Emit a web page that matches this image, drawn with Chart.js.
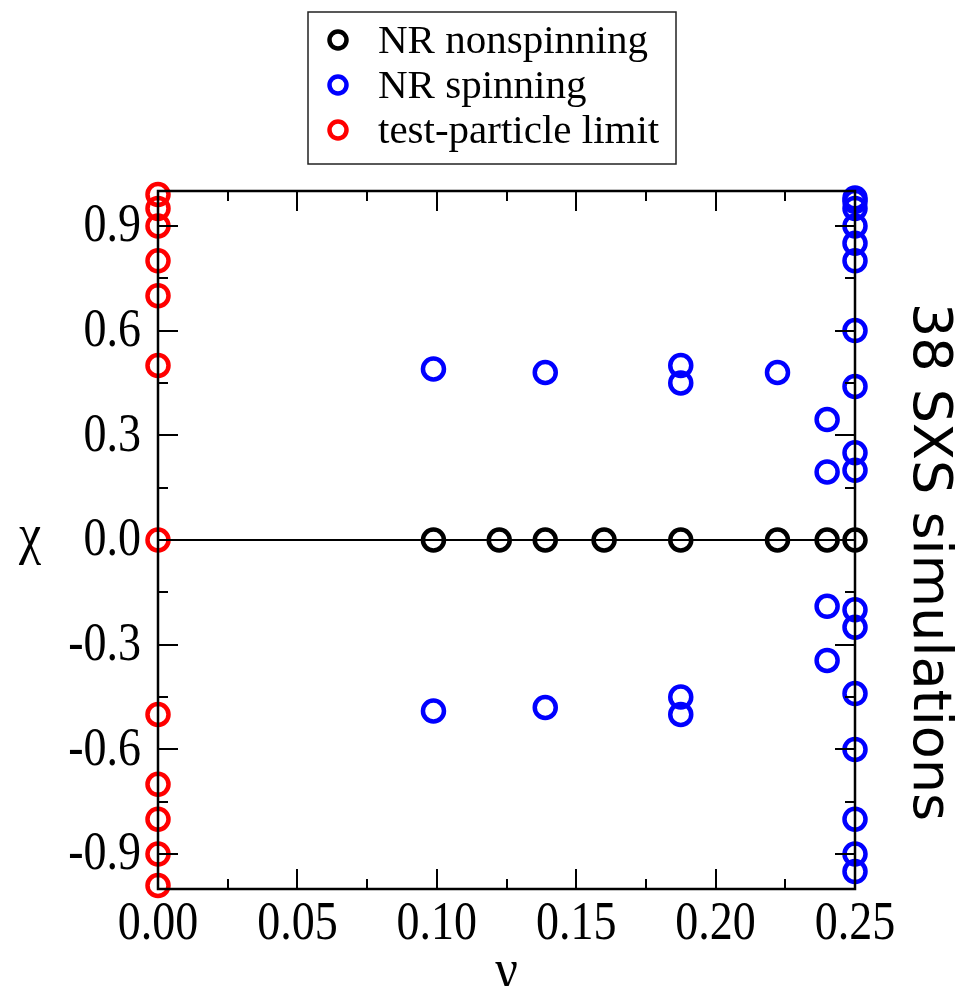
<!DOCTYPE html>
<html>
<head>
<meta charset="utf-8">
<script src="https://cdn.jsdelivr.net/npm/chart.js@4.4.1/dist/chart.umd.min.js"></script>
<style>
html,body{margin:0;padding:0;background:#fff;}
#wrap{width:961px;height:986px;position:relative;}
</style>
</head>
<body>
<div id="wrap"><canvas id="c" width="961" height="986"></canvas></div>
<script>
// ---- data ----
const nonspinNu  = [0.0988, 0.1224, 0.1389, 0.16, 0.1875, 0.2222, 0.24, 0.25];
const nonspinChi = [0, 0, 0, 0, 0, 0, 0, 0];

const spinNu  = [0.0988, 0.0988, 0.1389, 0.1389, 0.1875, 0.1875, 0.1875, 0.1875, 0.2222,
                 0.24, 0.24, 0.24, 0.24,
                 0.25, 0.25, 0.25, 0.25, 0.25, 0.25, 0.25, 0.25, 0.25, 0.25,
                 0.25, 0.25, 0.25, 0.25, 0.25, 0.25, 0.25];
const spinChi = [0.49, -0.49, 0.48, -0.48, 0.50, 0.45, -0.45, -0.50, 0.48,
                 0.345, 0.195, -0.19, -0.345,
                 0.98, 0.97, 0.95, 0.90, 0.85, 0.80, 0.60, 0.44, 0.25, 0.20,
                 -0.20, -0.25, -0.44, -0.60, -0.80, -0.90, -0.95];

const testNu  = [0, 0, 0, 0, 0, 0, 0, 0, 0, 0, 0, 0];
const testChi = [0.99, 0.95, 0.90, 0.80, 0.70, 0.50, 0.0, -0.50, -0.70, -0.80, -0.90, -0.99];

const xTicks = [0, 0.05, 0.10, 0.15, 0.20, 0.25];
const xMinorTicks = [0.025, 0.075, 0.125, 0.175, 0.225];
const yTicks = [-0.9, -0.6, -0.3, 0.0, 0.3, 0.6, 0.9];
const yMinorTicks = [-0.75, -0.45, -0.15, 0.15, 0.45, 0.75];

const seriesNames = ["NR nonspinning", "NR spinning", "test-particle limit"];
const seriesColors = ["#000000", "#0000ff", "#ff0000"];
const sideLabel = "38 SXS simulations";
const xTitle = "\u03bd";
const yTitle = "\u03c7";

const pts = (xs, ys) => xs.map((x, i) => ({x: x, y: ys[i]}));

const SERIF = '"Liberation Serif", "Times New Roman", serif';

// draw text stretched vertically by factor sy
function stretchedText(ctx, txt, x, y, sy) {
  ctx.save();
  ctx.translate(x, y);
  ctx.scale(1, sy);
  ctx.fillText(txt, 0, 0);
  ctx.restore();
}

const decor = {
  id: 'decor',
  afterDatasetsDraw(chart) {
    const ctx = chart.ctx;
    const a = chart.chartArea;
    const xs = chart.scales.x, ys = chart.scales.y;
    ctx.save();
    ctx.strokeStyle = '#000';
    // zero line
    ctx.lineWidth = 2;
    const y0 = Math.round(ys.getPixelForValue(0));
    ctx.beginPath(); ctx.moveTo(a.left, y0); ctx.lineTo(a.right, y0); ctx.stroke();
    // ticks inward on all sides
    ctx.lineWidth = 2;
    const MAJ = 20, MIN = 10;
    ctx.beginPath();
    xTicks.concat(xMinorTicks).forEach(v => {
      const L = xTicks.includes(v) ? MAJ : MIN;
      const px = Math.round(xs.getPixelForValue(v));
      ctx.moveTo(px, a.bottom); ctx.lineTo(px, a.bottom - L);
      ctx.moveTo(px, a.top); ctx.lineTo(px, a.top + L);
    });
    yTicks.concat(yMinorTicks).forEach(v => {
      const L = yTicks.includes(v) ? MAJ : MIN;
      const py = Math.round(ys.getPixelForValue(v));
      ctx.moveTo(a.left, py); ctx.lineTo(a.left + L, py);
      ctx.moveTo(a.right, py); ctx.lineTo(a.right - L, py);
    });
    ctx.stroke();
    // frame
    ctx.lineWidth = 2.5;
    ctx.strokeRect(a.left, a.top, a.right - a.left, a.bottom - a.top);
    ctx.restore();
  },
  afterDraw(chart) {
    const ctx = chart.ctx;
    const a = chart.chartArea;
    const xs = chart.scales.x, ys = chart.scales.y;
    ctx.save();
    ctx.fillStyle = '#000';
    // tick labels (slightly tall, like the reference)
    ctx.font = '46px ' + SERIF;
    ctx.textAlign = 'right';
    ctx.textBaseline = 'middle';
    yTicks.forEach(v => {
      stretchedText(ctx, v.toFixed(1), 141, ys.getPixelForValue(v) + 1, 1.18);
    });
    ctx.textAlign = 'center';
    ctx.textBaseline = 'top';
    xTicks.forEach(v => {
      stretchedText(ctx, v.toFixed(2), xs.getPixelForValue(v), 898, 1.18);
    });
    // axis titles
    ctx.font = '50px ' + SERIF;
    ctx.textAlign = 'center';
    ctx.textBaseline = 'middle';
    stretchedText(ctx, yTitle, 30, (a.top + a.bottom) / 2 - 2, 1.15);
    ctx.textBaseline = 'alphabetic';
    stretchedText(ctx, xTitle, (a.left + a.right) / 2, 988, 1.15);
    // legend box
    ctx.lineWidth = 1.5;
    ctx.strokeStyle = '#222';
    ctx.strokeRect(308, 12, 368, 152);
    ctx.font = '41px ' + SERIF;
    ctx.textAlign = 'left';
    ctx.textBaseline = 'middle';
    const rows = [40, 85, 130];
    rows.forEach((ry, i) => {
      ctx.beginPath();
      ctx.lineWidth = 4.5;
      ctx.strokeStyle = seriesColors[i];
      ctx.arc(338, ry, 8.5, 0, Math.PI * 2);
      ctx.stroke();
      ctx.fillStyle = '#000';
      ctx.fillText(seriesNames[i], 378, ry + 2);
    });
    // right side label, rotated clockwise
    ctx.save();
    ctx.translate(928, 562);
    ctx.rotate(Math.PI / 2);
    ctx.font = '54px "DejaVu Sans", sans-serif';
    ctx.textAlign = 'center';
    ctx.textBaseline = 'middle';
    ctx.fillStyle = '#000';
    ctx.fillText(sideLabel, 0, 0);
    ctx.restore();
    ctx.restore();
  }
};

const ptStyle = (color) => ({
  pointStyle: 'circle',
  pointRadius: 10.5,
  pointHoverRadius: 10.5,
  pointBorderWidth: 4.5,
  pointHoverBorderWidth: 4.5,
  borderColor: color,
  pointBorderColor: color,
  backgroundColor: 'rgba(0,0,0,0)',
  pointBackgroundColor: 'rgba(0,0,0,0)',
  showLine: false,
  clip: false
});

new Chart(document.getElementById('c'), {
  type: 'scatter',
  data: {
    datasets: [
      Object.assign({label: seriesNames[0], data: pts(nonspinNu, nonspinChi)}, ptStyle(seriesColors[0])),
      Object.assign({label: seriesNames[1], data: pts(spinNu, spinChi)}, ptStyle(seriesColors[1])),
      Object.assign({label: seriesNames[2], data: pts(testNu, testChi)}, ptStyle(seriesColors[2]))
    ]
  },
  options: {
    responsive: false,
    animation: false,
    events: [],
    layout: {padding: {top: 191, right: 106, left: 0, bottom: 0}},
    plugins: {legend: {display: false}, tooltip: {enabled: false}},
    scales: {
      x: {
        type: 'linear', min: 0, max: 0.25,
        grid: {display: false, drawTicks: false},
        border: {display: false},
        afterBuildTicks: s => { s.ticks = xTicks.map(v => ({value: v})); },
        afterFit: s => { s.height = 97; },
        ticks: {display: false}
      },
      y: {
        type: 'linear', min: -1, max: 1,
        grid: {display: false, drawTicks: false},
        border: {display: false},
        afterBuildTicks: s => { s.ticks = yTicks.map(v => ({value: v})); },
        afterFit: s => { s.width = 158; },
        ticks: {display: false}
      }
    }
  },
  plugins: [decor]
});
</script>
</body>
</html>
